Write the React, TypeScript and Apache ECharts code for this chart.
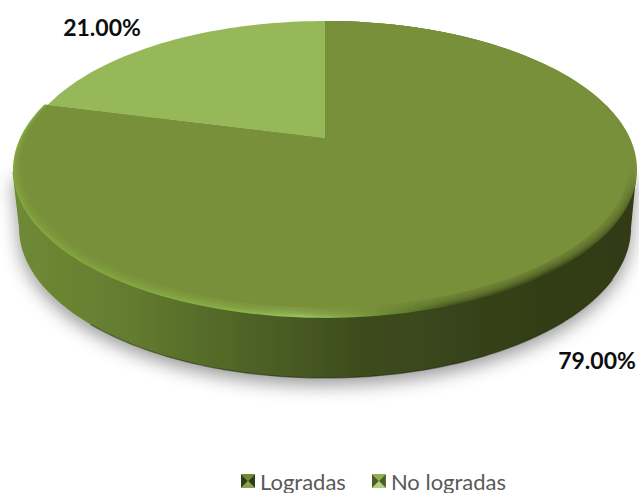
import React, { useEffect, useRef } from "react";
import * as echarts from "echarts";

const categories = ["Logradas", "No logradas"];
const shares = [79, 21];
const labelFormat = (v: number) => `${v.toFixed(2)}%`;

const faceColors = ["#79903a", "#97b858"];
const iconColors = [
  { top: "#6d8a35", side: "#2f3c14", bottom: "#86a545" },
  { top: "#8fb050", side: "#4a5f22", bottom: "#b2cf7c" },
];
const labelAnchors = [
  { x: 597, y: 360 },
  { x: 102, y: 27 },
];

// Perspective projection of the unit disc onto the tilted top face.
const APEX_X = 325;
const APEX_Y = 138;
const SKEW = 0.212;
const SCALE_X = 304.9;
const SCALE_Y = -112.5;

// Lower outline of the disc's wall.
const BASE = { cx: 325, cy: 228, rx: 306, ry: 150 };

const RIM_DEPTH = 0.045;
const total = shares.reduce((a, b) => a + b, 0);

function project(theta: number, r: number): number[] {
  const u = r * Math.sin(theta);
  const v = r * Math.cos(theta);
  const d = 1 + SKEW * v;
  return [APEX_X + (SCALE_X * u) / d, (SCALE_Y * v + APEX_Y) / d];
}

// The bevel narrows the face towards the viewer and vanishes at the far edge.
function insetRadius(theta: number, amount: number): number {
  const t = (1 - Math.cos(theta)) / 2;
  return 1 - amount * RIM_DEPTH * Math.pow(t, 1.3);
}

function wedge(start: number, end: number, amount: number): number[][] {
  const steps = Math.max(2, Math.ceil(((end - start) / (2 * Math.PI)) * 240));
  const pts: number[][] = [[APEX_X, APEX_Y]];
  for (let i = 0; i <= steps; i++) {
    const th = start + ((end - start) * i) / steps;
    pts.push(project(th, insetRadius(th, amount)));
  }
  return pts;
}

function baseArc(fromDeg: number, toDeg: number): number[][] {
  const pts: number[][] = [];
  for (let i = 0; i <= 120; i++) {
    const a = ((fromDeg + ((toDeg - fromDeg) * i) / 120) * Math.PI) / 180;
    pts.push([BASE.cx + BASE.rx * Math.cos(a), BASE.cy + BASE.ry * Math.sin(a)]);
  }
  return pts;
}

function wallOutline(): number[][] {
  return [[636.5, 172], ...baseArc(0, 180), [12.5, 172]];
}

const wallGradient = new echarts.graphic.LinearGradient(12, 0, 636, 0, [
  { offset: 0, color: "#6f8a36" },
  { offset: 0.18, color: "#647d2f" },
  { offset: 0.38, color: "#4e6326" },
  { offset: 0.55, color: "#3e4d1e" },
  { offset: 0.8, color: "#343f18" },
  { offset: 1, color: "#303a15" },
], true);

const rimGradient = new echarts.graphic.LinearGradient(0, 170, 320, -150, [
  { offset: 0, color: "#82a53f" },
  { offset: 0.17, color: "#8ab34a" },
  { offset: 0.24, color: "#98c25f" },
  { offset: 0.37, color: "#6f9034" },
  { offset: 0.49, color: "#4a5e22" },
  { offset: 0.7, color: "#3f4f1c" },
  { offset: 0.94, color: "#566c28" },
  { offset: 0.99, color: "#7a903a" },
], true);

function sliceRenderer(index: number) {
  return (_params: any, api: any) => {
    const value = api.value(0) as number;
    const before = shares.slice(0, index).reduce((a, b) => a + b, 0);
    const start = (before / total) * 2 * Math.PI;
    const end = ((before + value) / total) * 2 * Math.PI;
    const children: any[] = [];

    if (index === 0) {
      children.push({
        type: "polygon",
        shape: { points: wallOutline() },
        style: {
          fill: wallGradient,
          shadowBlur: 18,
          shadowOffsetY: 7,
          shadowColor: "rgba(0,0,0,0.4)",
        },
      });
      // Darker contact line along the wall's lower edge.
      children.push({
        type: "polyline",
        shape: { points: baseArc(20, 140) },
        style: { fill: "none", stroke: "rgba(25,30,8,0.5)", lineWidth: 1.2 },
      });
      children.push({
        type: "polygon",
        shape: { points: wedge(start, end, 0) },
        style: { fill: rimGradient },
      });
      // Soft transition from the bevel into the flat face.
      [0.2, 0.4, 0.6, 0.8].forEach((amount) => {
        children.push({
          type: "polygon",
          shape: { points: wedge(start, end, amount) },
          style: { fill: faceColors[0], opacity: 0.3 },
        });
      });
    }
    children.push({
      type: "polygon",
      shape: { points: wedge(start, end, 1) },
      style: { fill: faceColors[index] },
    });
    children.push({
      type: "text",
      style: {
        text: labelFormat(value),
        x: labelAnchors[index].x,
        y: labelAnchors[index].y,
        fill: "#0d0d0d",
        font: "bold 23px Lato",
        textAlign: "center",
        textVerticalAlign: "middle",
      },
    });
    return { type: "group", children };
  };
}

function bevelIcon(c: { top: string; side: string; bottom: string }): string {
  const svg =
    `<svg xmlns="http://www.w3.org/2000/svg" width="14" height="14" viewBox="0 0 14 14">` +
    `<polygon points="0,0 14,0 7,7" fill="${c.top}"/>` +
    `<polygon points="0,14 14,14 7,7" fill="${c.bottom}"/>` +
    `<polygon points="0,0 0,14 7,7" fill="${c.side}"/>` +
    `<polygon points="14,0 14,14 7,7" fill="${c.side}"/>` +
    `</svg>`;
  return "image://data:image/svg+xml;charset=utf-8," + encodeURIComponent(svg);
}

export default function App() {
  const ref = useRef<HTMLDivElement>(null);

  useEffect(() => {
    document.body.style.margin = "0";
    const chart = echarts.init(ref.current!, undefined, { renderer: "svg" });
    chart.setOption({
      animation: false,
      backgroundColor: "#ffffff",
      legend: {
        left: 236,
        top: 465,
        itemWidth: 14,
        itemHeight: 14,
        itemGap: 26,
        selectedMode: false,
        textStyle: { fontFamily: "Lato", fontSize: 22, color: "#595959" },
        data: categories.map((name, i) => ({ name, icon: bevelIcon(iconColors[i]) })),
      },
      series: categories.map((name, i) => ({
        type: "custom",
        name,
        coordinateSystem: "none",
        silent: true,
        itemStyle: { color: faceColors[i] },
        renderItem: sliceRenderer(i),
        data: [[shares[i]]],
      })),
    });
    return () => chart.dispose();
  }, []);

  return <div ref={ref} style={{ width: 639, height: 493 }} />;
}
